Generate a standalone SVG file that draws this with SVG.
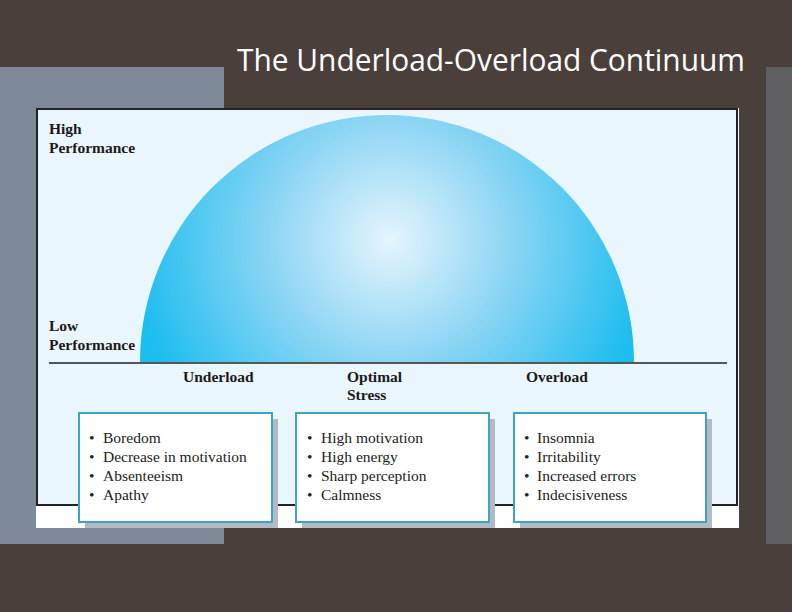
<svg xmlns="http://www.w3.org/2000/svg" width="792" height="612" viewBox="0 0 792 612">
<defs>
<radialGradient id="dome" cx="390" cy="240" r="260" gradientUnits="userSpaceOnUse">
<stop offset="0" stop-color="#e6f5fc"/>
<stop offset="0.45" stop-color="#8fd6f4"/>
<stop offset="1" stop-color="#1cbdef"/>
</radialGradient>
<style>
.lab{font-family:"Liberation Serif","DejaVu Serif",serif;font-weight:bold;font-size:15.5px;fill:#1a1a1a}
.item{font-family:"Liberation Serif","DejaVu Serif",serif;font-size:15.5px;fill:#222}
.box{fill:#ffffff;stroke:#3ea3c9;stroke-width:2}
.shadow{fill:#b2bac2}
</style>
</defs>
<rect x="0" y="0" width="792" height="612" fill="#4a3f3a"/>
<rect x="0" y="67" width="224" height="477" fill="#7f8a99"/>
<rect x="766" y="67" width="26" height="477" fill="#5f5f62"/>
<text x="237" y="71" font-family="'Open Sans','Liberation Sans',sans-serif" font-size="31" fill="#ffffff" textLength="508" lengthAdjust="spacingAndGlyphs">The Underload-Overload Continuum</text>
<rect x="36" y="108" width="703" height="420" fill="#ffffff"/>
<rect x="37" y="109" width="700" height="396" fill="#eaf6fd" stroke="#222" stroke-width="2"/>
<path d="M140 362 A247 247 0 0 1 634 362 Z" fill="url(#dome)"/>
<line x1="49" y1="363" x2="727" y2="363" stroke="#222" stroke-width="1.3"/>
<text class="lab" x="49" y="134">High</text>
<text class="lab" x="49" y="153">Performance</text>
<text class="lab" x="49" y="331">Low</text>
<text class="lab" x="49" y="350">Performance</text>
<text class="lab" x="183" y="382">Underload</text>
<text class="lab" x="347" y="382">Optimal</text>
<text class="lab" x="347" y="400">Stress</text>
<text class="lab" x="526" y="382">Overload</text>
<g id="underload-box">
<rect class="shadow" x="85" y="419" width="193" height="109"/>
<rect class="box" x="79" y="413" width="193" height="109"/>
<text class="item" x="89" y="443">•</text><text class="item" x="103" y="443">Boredom</text>
<text class="item" x="89" y="462">•</text><text class="item" x="103" y="462">Decrease in motivation</text>
<text class="item" x="89" y="481">•</text><text class="item" x="103" y="481">Absenteeism</text>
<text class="item" x="89" y="500">•</text><text class="item" x="103" y="500">Apathy</text>
</g>
<g id="optimal-box">
<rect class="shadow" x="302" y="419" width="193" height="109"/>
<rect class="box" x="296" y="413" width="193" height="109"/>
<text class="item" x="307" y="443">•</text><text class="item" x="321" y="443">High motivation</text>
<text class="item" x="307" y="462">•</text><text class="item" x="321" y="462">High energy</text>
<text class="item" x="307" y="481">•</text><text class="item" x="321" y="481">Sharp perception</text>
<text class="item" x="307" y="500">•</text><text class="item" x="321" y="500">Calmness</text>
</g>
<g id="overload-box">
<rect class="shadow" x="520" y="419" width="192" height="109"/>
<rect class="box" x="514" y="413" width="192" height="109"/>
<text class="item" x="524" y="443">•</text><text class="item" x="537" y="443">Insomnia</text>
<text class="item" x="524" y="462">•</text><text class="item" x="537" y="462">Irritability</text>
<text class="item" x="524" y="481">•</text><text class="item" x="537" y="481">Increased errors</text>
<text class="item" x="524" y="500">•</text><text class="item" x="537" y="500">Indecisiveness</text>
</g>
<g id="connectors"></g>
</svg>
